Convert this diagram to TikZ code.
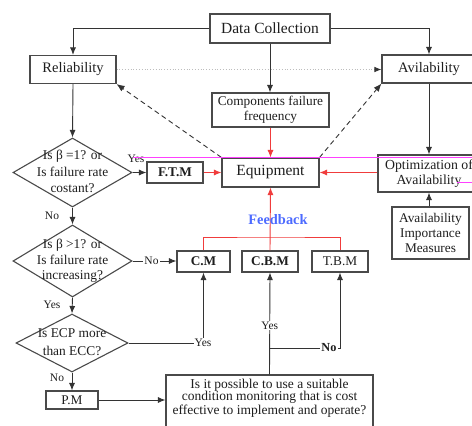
\documentclass[tikz,border=0pt]{standalone}
\usepackage{fontspec}
\setmainfont{Liberation Serif}
\usetikzlibrary{arrows.meta,shapes.geometric}
\definecolor{txt}{HTML}{1E1E1E}
\definecolor{boxgray}{HTML}{4A4A4A}
\definecolor{linegray}{HTML}{333333}
\definecolor{fbred}{HTML}{F03C3C}
\definecolor{mag}{HTML}{FF40FF}
\definecolor{fbblue}{HTML}{4D6BFF}
\definecolor{dotgray}{HTML}{BDBDBD}
\begin{document}
\begin{tikzpicture}[x=1pt,y=-1pt,
  box/.style={draw=boxgray, line width=1.1pt, fill=white, inner sep=0pt,
    align=center, text=txt, font=\fontsize{13.3}{15}\selectfont},
  smallbox/.style={box, minimum height=21pt, font=\fontsize{13.3}{15}\selectfont\bfseries},
  dia/.style={diamond, draw=boxgray, line width=1.1pt, fill=white, inner sep=0pt},
  dtext/.style={align=center, text=txt, inner sep=0pt},
  arr/.style={draw=linegray, line width=0.9pt, -{Latex[length=7.5pt,width=6pt]}},
  redarr/.style={draw=fbred, line width=0.9pt, -{Latex[length=7.5pt,width=6pt]}},
  redline/.style={draw=fbred, line width=0.9pt},
  dasharr/.style={draw=linegray, line width=0.9pt, dash pattern=on 5pt off 3.5pt,
    -{Latex[length=8pt,width=6.5pt]}},
  dotarr/.style={draw=dotgray, line width=0.8pt, dotted,
    -{Latex[length=7pt,width=5.5pt,color=linegray]}},
  lbl/.style={text=txt, inner sep=1pt, font=\fontsize{11.5}{13}\selectfont},
]
\useasboundingbox (0,0) rectangle (472,426);
\fill[white] (0,0) rectangle (472,426);

% top row
\node[box, minimum width=120pt, minimum height=29pt, font=\fontsize{15.5}{18}\selectfont] (data) at (270,28.5) {Data Collection};
\node[box, minimum width=86pt, minimum height=28pt, font=\fontsize{14.5}{17}\selectfont] (rel) at (73,69.5) {Reliability};
\node[box, minimum width=94pt, minimum height=28pt, font=\fontsize{14.5}{17}\selectfont] (avl) at (429,69) {Avilability};
\node[box, minimum width=117pt, minimum height=34pt] (comp) at (270.5,110) {Components failure\\frequency};

% middle row
\node[box, minimum width=97pt, minimum height=29pt, font=\fontsize{15.5}{18}\selectfont] (equip) at (270.5,172.5) {Equipment};
\node[box, minimum width=102pt, minimum height=37pt, font=\fontsize{13.8}{15.5}\selectfont] (opt) at (429,173.5) {Optimization of\\Availability};
\node[box, minimum width=77pt, minimum height=52pt] (aim) at (430.5,233) {Availability\\Importance\\Measures};
\node[smallbox, minimum width=56pt] (ftm) at (175,172.5) {F.T.M};

% decisions
\node[dia, minimum width=119pt, minimum height=69pt] (d1) at (72.5,172.5) {};
\node[dtext, font=\fontsize{13.4}{16.5}\selectfont] at (72.5,171.5) {Is β =1? or\\Is failure rate\\costant?};
\node[dia, minimum width=119pt, minimum height=72pt] (d2) at (72.5,261) {};
\node[dtext, font=\fontsize{13.4}{15.5}\selectfont] at (72.5,261) {Is β >1? or\\Is failure rate\\increasing?};
\node[dia, minimum width=112pt, minimum height=58pt] (d3) at (72,343) {};
\node[dtext, font=\fontsize{13.4}{18}\selectfont] at (72,342.5) {Is ECP more\\than ECC?};

% maintenance strategies
\node[smallbox, minimum width=53pt] (cm) at (203.5,261.5) {C.M};
\node[smallbox, minimum width=56pt] (cbm) at (270,261.5) {C.B.M};
\node[smallbox, minimum width=56pt, font=\fontsize{13.3}{15}\selectfont] (tbm) at (340,261.5) {T.B.M};
\node[box, minimum width=52pt, minimum height=18pt] (pm) at (72,400) {P.M};
% the question box runs off the lower edge; its text sits in the upper part
\node[box, minimum width=207pt, minimum height=56pt] (q) at (269.5,403) {};
\node[dtext, font=\fontsize{13.5}{12.3}\selectfont] at (269.5,398) 
  {Is it possible to use a suitable\\condition monitoring that is cost\\effective to implement and operate?};

% data flow from the top
\draw[arr] (data.west) -| (rel.north);
\draw[arr] (data.east) -| (avl.north);
\draw[arr] (data.south) -- (data.south |- comp.north);
\draw[dotarr] (rel.east) -- (rel.east -| avl.west);
\draw[redarr] (comp.south) -- (comp.south |- equip.north);
\draw[dasharr] (equip.north west) -- (rel.south east);
\draw[dasharr] (equip.north east) -- (avl.south west);
\draw[arr] (avl.south) -- (opt.north);
\draw[arr] (opt.south |- aim.north) -- (opt.south);
\draw[redarr] (opt.west |- equip.east) -- (equip.east);
\draw[redarr] (ftm.east) -- (ftm.east -| equip.west);

% decision chain
\draw[arr] (rel.south) -- (d1.north);
\draw[arr] (d1.east) -- (d1.east -| ftm.west);
\node[lbl] at (136,159) {Yes};
\draw[arr] (d1.south) -- (d2.north);
\node[lbl] at (52,216) {No};
\draw[arr] (d2.east) -- (d2.east -| cm.west) node[lbl, midway, fill=white, xshift=-3pt] {No};
\draw[arr] (d2.south) -- (d3.north);
\node[lbl] at (52,305) {Yes};
\draw[arr] (d3.east) -| (cm.south);
\node[lbl, fill=white] at (203,342.5) {Yes};
\draw[arr] (d3.south) -- (pm.north);
\node[lbl] at (57,378) {No};
\draw[arr] (pm.east) -- (pm.east -| q.west);

% condition monitoring question
\coordinate (split) at (270,348);
\draw[arr] (q.north) -- (cbm.south) node[lbl, pos=0.48, fill=white] {Yes};
\draw[arr] (split) -| (tbm.south);
\node[lbl, fill=white, font=\fontsize{12.3}{14}\selectfont\bfseries] at (329,348) {No};

% feedback loop
\draw[redline] (cm.north) |- (270,237) -| (tbm.north);
\draw[redarr] (cbm.north) -- (equip.south);
\node[text=fbblue, font=\fontsize{14.4}{16}\selectfont\bfseries, inner sep=0pt] at (278,220) {Feedback};

% magenta strokes
\draw[mag, line width=0.8pt] (133,157.5) -- (472,157.5);
\draw[mag, line width=0.8pt] (457,182) -- (472,182);
\end{tikzpicture}
\end{document}
